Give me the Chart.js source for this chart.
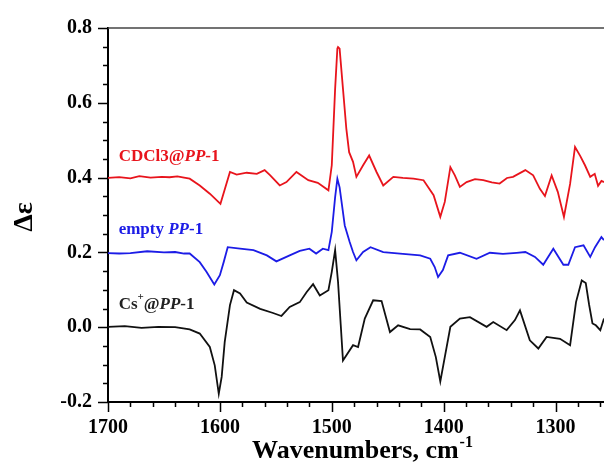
<!DOCTYPE html>
<html>
<head>
<meta charset="utf-8">
<script src="https://cdn.jsdelivr.net/npm/chart.js@4.4.1/dist/chart.umd.min.js"></script>
<style>
html,body{margin:0;padding:0;background:#fff;}
#c{display:block;}
</style>
</head>
<body>
<canvas id="c" width="604" height="471"></canvas>
<script>
// ---- data ----
const seriesNames = ["CDCl3@PP-1", "empty PP-1", "Cs+@PP-1"];

const redWn  = [1700,1690,1680,1672,1662,1652,1645,1638,1632,1627,1618,1609,1599.5,1591,1585,1576,1567,1560,1555,1546.5,1540.5,1531.6,1521,1512.5,1503,1500,1497,1495,1494.4,1493,1490,1487,1484.5,1481,1478,1472,1466.6,1460,1454,1445,1436.5,1427,1418,1409,1403,1399,1394,1390,1385.5,1379.5,1372,1364.6,1357,1350,1343.4,1338,1327,1320,1314,1309.5,1303.5,1298,1292.5,1287,1282.6,1278,1273.7,1269,1265,1262,1259,1256.7];
const redVal = [0.399,0.401,0.398,0.404,0.400,0.402,0.401,0.403,0.400,0.397,0.379,0.357,0.330,0.415,0.408,0.413,0.410,0.420,0.406,0.379,0.388,0.415,0.393,0.386,0.366,0.433,0.638,0.745,0.749,0.745,0.638,0.531,0.468,0.442,0.402,0.433,0.459,0.415,0.379,0.402,0.399,0.397,0.393,0.353,0.295,0.335,0.428,0.406,0.375,0.388,0.396,0.393,0.387,0.384,0.399,0.402,0.420,0.406,0.370,0.351,0.406,0.362,0.295,0.383,0.482,0.458,0.433,0.402,0.410,0.378,0.391,0.388];

const blueWn  = [1700,1690,1680,1665,1650,1640,1632,1627,1618,1612,1605,1600,1596.6,1593,1582,1570,1558,1549.5,1537.6,1528.6,1520,1514,1508,1503,1500,1497,1495,1493,1488.4,1484,1481,1478,1472,1465.4,1454,1439,1421,1412,1408,1405,1400.7,1396,1385.5,1370.6,1358.7,1347,1334.8,1327,1318.4,1311,1302,1293,1288.6,1282.6,1275,1269,1264.7,1259,1256.7];
const blueVal = [0.198,0.197,0.198,0.203,0.200,0.201,0.197,0.197,0.174,0.148,0.114,0.139,0.174,0.214,0.210,0.206,0.192,0.176,0.192,0.204,0.210,0.197,0.210,0.206,0.255,0.348,0.397,0.374,0.272,0.228,0.201,0.179,0.201,0.214,0.201,0.197,0.192,0.183,0.161,0.134,0.153,0.192,0.199,0.183,0.199,0.196,0.199,0.201,0.188,0.167,0.210,0.167,0.167,0.214,0.219,0.188,0.214,0.241,0.233];

const blackWn  = [1700,1685,1670,1655,1640,1627,1618,1609,1604.6,1601,1598.4,1595.7,1591,1587.4,1582,1576,1564,1552.5,1545,1537.6,1528.6,1522.4,1516.7,1510.7,1503,1500,1497,1494.4,1490,1481,1476.5,1470.5,1463,1455.5,1448,1440.7,1430,1421,1412,1407,1403,1399,1394,1385.5,1376.5,1361.6,1355.7,1343.7,1336.3,1331.8,1323,1315.4,1308,1296,1287,1281.7,1276.6,1273,1270,1267,1264,1260,1256.7];
const blackVal = [0.001,0.003,-0.002,0.001,0.000,-0.006,-0.017,-0.053,-0.102,-0.178,-0.133,-0.040,0.059,0.099,0.090,0.066,0.049,0.038,0.030,0.054,0.067,0.094,0.115,0.085,0.099,0.148,0.206,0.121,-0.089,-0.048,-0.053,0.023,0.072,0.070,-0.013,0.005,-0.005,-0.006,-0.026,-0.080,-0.145,-0.080,0.001,0.023,0.027,0.001,0.014,-0.008,0.019,0.045,-0.035,-0.057,-0.026,-0.031,-0.048,0.067,0.125,0.118,0.060,0.010,0.005,-0.008,0.023];

const xTickValues = [1700,1680,1660,1640,1620,1600,1580,1560,1540,1520,1500,1480,1460,1440,1420,1400,1380,1360,1340,1320,1300,1280,1260];
const yTickValues = [-0.2,-0.15,-0.1,-0.05,0,0.05,0.1,0.15,0.2,0.25,0.3,0.35,0.4,0.45,0.5,0.55,0.6,0.65,0.7,0.75,0.8];
const xLabelValues = [1700,1600,1500,1400,1300];
const yLabelValues = [-0.2,0,0.2,0.4,0.6,0.8];

const pts = (xs, ys) => xs.map((x, i) => ({x: x, y: ys[i]}));
const SERIF = "'Liberation Serif','Times New Roman',serif";

const isLabelX = v => xLabelValues.some(t => Math.abs(t - v) < 1e-6);
const isLabelY = v => yLabelValues.some(t => Math.abs(t - v) < 1e-6);

const decorPlugin = {
  id: 'decor',
  afterDraw(chart) {
    const ctx = chart.ctx;
    const xs = chart.scales.x, ys = chart.scales.y;
    const area = chart.chartArea;
    ctx.save();
    // top border
    ctx.strokeStyle = '#444';
    ctx.lineWidth = 1.5;
    ctx.beginPath();
    ctx.moveTo(area.left, area.top);
    ctx.lineTo(chart.width, area.top);
    ctx.stroke();
    // ticks
    ctx.strokeStyle = '#000';
    ctx.lineWidth = 1.5;
    ctx.beginPath();
    xTickValues.forEach(v => {
      const p = Math.round(xs.getPixelForValue(v)) + 0.5;
      const len = isLabelX(v) ? 10 : 5;
      ctx.moveTo(p, area.bottom);
      ctx.lineTo(p, area.bottom + len);
    });
    yTickValues.forEach(v => {
      const p = Math.round(ys.getPixelForValue(v)) + 0.5;
      const len = isLabelY(v) ? 10 : 5;
      ctx.moveTo(area.left, p);
      ctx.lineTo(area.left - len, p);
    });
    ctx.stroke();
    // series labels
    const labs = chart.options.plugins.decor.labels;
    labs.forEach(l => {
      let x = xs.getPixelForValue(l.wn);
      const y = ys.getPixelForValue(l.val);
      ctx.fillStyle = l.color;
      l.parts.forEach(part => {
        ctx.font = (part.i ? 'italic ' : '') + 'bold ' + (part.sup ? 11 : 17) + 'px ' + SERIF;
        ctx.textBaseline = 'alphabetic';
        ctx.textAlign = 'left';
        ctx.fillText(part.t, x, part.sup ? y - 9 : y);
        x += ctx.measureText(part.t).width;
      });
    });
    // x axis title
    ctx.fillStyle = '#000';
    ctx.font = 'bold 26px ' + SERIF;
    ctx.textBaseline = 'alphabetic';
    const main = 'Wavenumbers, cm';
    const w1 = ctx.measureText(main).width;
    ctx.font = 'bold 16px ' + SERIF;
    const w2 = ctx.measureText('-1').width;
    const cx = (area.left + area.right) / 2 + 6;
    const sx = cx - (w1 + w2) / 2;
    ctx.font = 'bold 26px ' + SERIF;
    ctx.textAlign = 'left';
    ctx.fillText(main, sx, 458);
    ctx.font = 'bold 16px ' + SERIF;
    ctx.fillText('-1', sx + w1 + 1, 447);
    // y axis title
    ctx.translate(25, (area.top + area.bottom) / 2 + 2);
    ctx.rotate(-Math.PI / 2);
    ctx.font = 'bold 28px ' + SERIF;
    ctx.textAlign = 'center';
    ctx.textBaseline = 'middle';
    ctx.fillText('\u0394\u03b5', 0, 0);
    ctx.restore();
  }
};

new Chart(document.getElementById('c'), {
  type: 'line',
  data: {
    datasets: [
      {label: seriesNames[0], data: pts(redWn, redVal), borderColor: '#e8141c', borderWidth: 1.8, pointRadius: 0, tension: 0, fill: false},
      {label: seriesNames[1], data: pts(blueWn, blueVal), borderColor: '#1c1ce6', borderWidth: 1.8, pointRadius: 0, tension: 0, fill: false},
      {label: seriesNames[2], data: pts(blackWn, blackVal), borderColor: '#111111', borderWidth: 1.8, pointRadius: 0, tension: 0, fill: false}
    ]
  },
  options: {
    responsive: false,
    animation: false,
    devicePixelRatio: 1,
    layout: {padding: {top: 28, right: 0, left: 0, bottom: 0}},
    plugins: {
      legend: {display: false},
      tooltip: {enabled: false},
      decor: {
        labels: [
          {wn: 1690.5, val: 0.444, color: '#e8141c', parts: [{t: 'CDCl3@'}, {t: 'PP', i: true}, {t: '-1'}]},
          {wn: 1690.5, val: 0.250, color: '#1c1ce6', parts: [{t: 'empty '}, {t: 'PP', i: true}, {t: '-1'}]},
          {wn: 1690.5, val: 0.049, color: '#222', parts: [{t: 'Cs'}, {t: '+', sup: true}, {t: '@'}, {t: 'PP', i: true}, {t: '-1'}]}
        ]
      }
    },
    scales: {
      x: {
        type: 'linear',
        reverse: true,
        min: 1256.7,
        max: 1700,
        afterBuildTicks: s => { s.ticks = xTickValues.map(v => ({value: v})); },
        afterFit: s => { s.height = 69; s.paddingRight = 0; s.paddingLeft = 0; },
        grid: {display: false},
        border: {display: true, color: '#000', width: 2},
        ticks: {
          autoSkip: false, maxRotation: 0, padding: 6, color: '#000',
          font: {family: SERIF, size: 20, weight: 'bold'},
          callback: v => isLabelX(v) ? String(v) : ''
        }
      },
      y: {
        type: 'linear',
        min: -0.2,
        max: 0.8,
        afterBuildTicks: s => { s.ticks = yTickValues.map(v => ({value: v})); },
        afterFit: s => { s.width = 108; s.paddingTop = 0; s.paddingBottom = 0; },
        grid: {display: false},
        border: {display: true, color: '#000', width: 2},
        ticks: {
          autoSkip: false, padding: 8, color: '#000',
          font: {family: SERIF, size: 20, weight: 'bold'},
          callback: v => isLabelY(v) ? v.toFixed(1) : ''
        }
      }
    }
  },
  plugins: [decorPlugin]
});
</script>
</body>
</html>
